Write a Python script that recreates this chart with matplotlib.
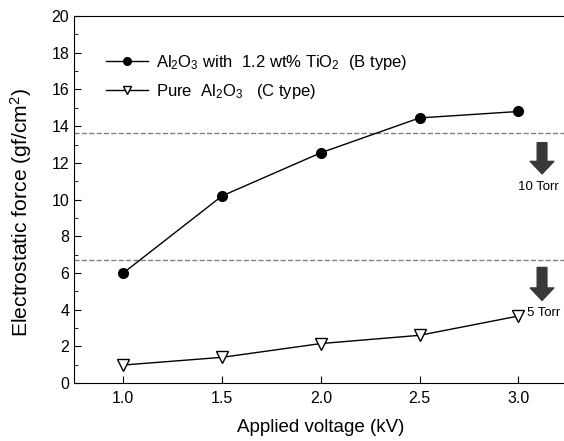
import matplotlib.pyplot as plt
from matplotlib.ticker import MultipleLocator

plt.rcParams['font.family'] = ['Liberation Sans', 'DejaVu Sans']
plt.rcParams['mathtext.default'] = 'regular'

voltage = [1.0, 1.5, 2.0, 2.5, 3.0]
force_b = [6.0, 10.2, 12.55, 14.45, 14.8]
force_c = [0.98, 1.4, 2.15, 2.6, 3.65]
limit_10torr = 13.65
limit_5torr = 6.7

fig = plt.figure(figsize=(5.64, 4.41), dpi=100)
ax = fig.add_axes([0.1312, 0.1315, 0.8754, 0.832])

ax.plot(voltage, force_b, 'o-', color='black', linewidth=1, markersize=7,
        label=r'Al$_2$O$_3$ with  1.2 wt% TiO$_2$  (B type)', zorder=3)
ax.plot(voltage, force_c, 'v-', color='black', linewidth=1, markersize=8,
        markerfacecolor='white', label=r'Pure  Al$_2$O$_3$   (C type)', zorder=3)
# small white halo so the line stops short of each marker
ax.plot(voltage, force_b, 'o', color='white', markersize=10, zorder=2.5)
ax.plot(voltage, force_c, 'v', color='white', markersize=11, zorder=2.5)

ax.axhline(limit_10torr, color='gray', linestyle='--', linewidth=1, zorder=1)
ax.axhline(limit_5torr, color='gray', linestyle='--', linewidth=1, zorder=1)

# pressure arrows
for y0, y1 in [(13.1, 11.4), (6.3, 4.5)]:
    ax.annotate('', xy=(3.12, y1), xytext=(3.12, y0),
                arrowprops=dict(facecolor='#383838', edgecolor='#383838',
                                width=7, headwidth=17, headlength=9))
ax.text(3.1, 10.7, '10 Torr', ha='center', va='center', fontsize=9.5)
ax.text(3.045, 3.8, '5 Torr', ha='left', va='center', fontsize=9.5)

ax.set_xlim(0.75, 3.25)
ax.set_ylim(0, 20)
ax.set_xticks(voltage)
ax.set_xticklabels(['1.0', '1.5', '2.0', '2.5', '3.0'])
ax.yaxis.set_major_locator(MultipleLocator(2))
ax.yaxis.set_minor_locator(MultipleLocator(1))
ax.tick_params(axis='both', direction='in', labelsize=11.5, length=5)
ax.tick_params(axis='x', pad=6)
ax.tick_params(axis='y', which='minor', direction='in', length=3)
ax.spines['right'].set_visible(False)

ax.set_xlabel('Applied voltage (kV)', fontsize=13.5, labelpad=9)
ax.set_ylabel('Electrostatic force (gf/cm$^2$)', fontsize=15.2)
ax.yaxis.set_label_coords(-0.082, 0.465)

leg = ax.legend(loc='upper left', bbox_to_anchor=(0.035, 0.94), frameon=False,
                fontsize=12, numpoints=1, handlelength=2.5, handletextpad=0.5,
                labelspacing=0.6)
for h in leg.legend_handles:
    h.set_markersize(5.5)

fig.savefig('out.png', dpi=100)
